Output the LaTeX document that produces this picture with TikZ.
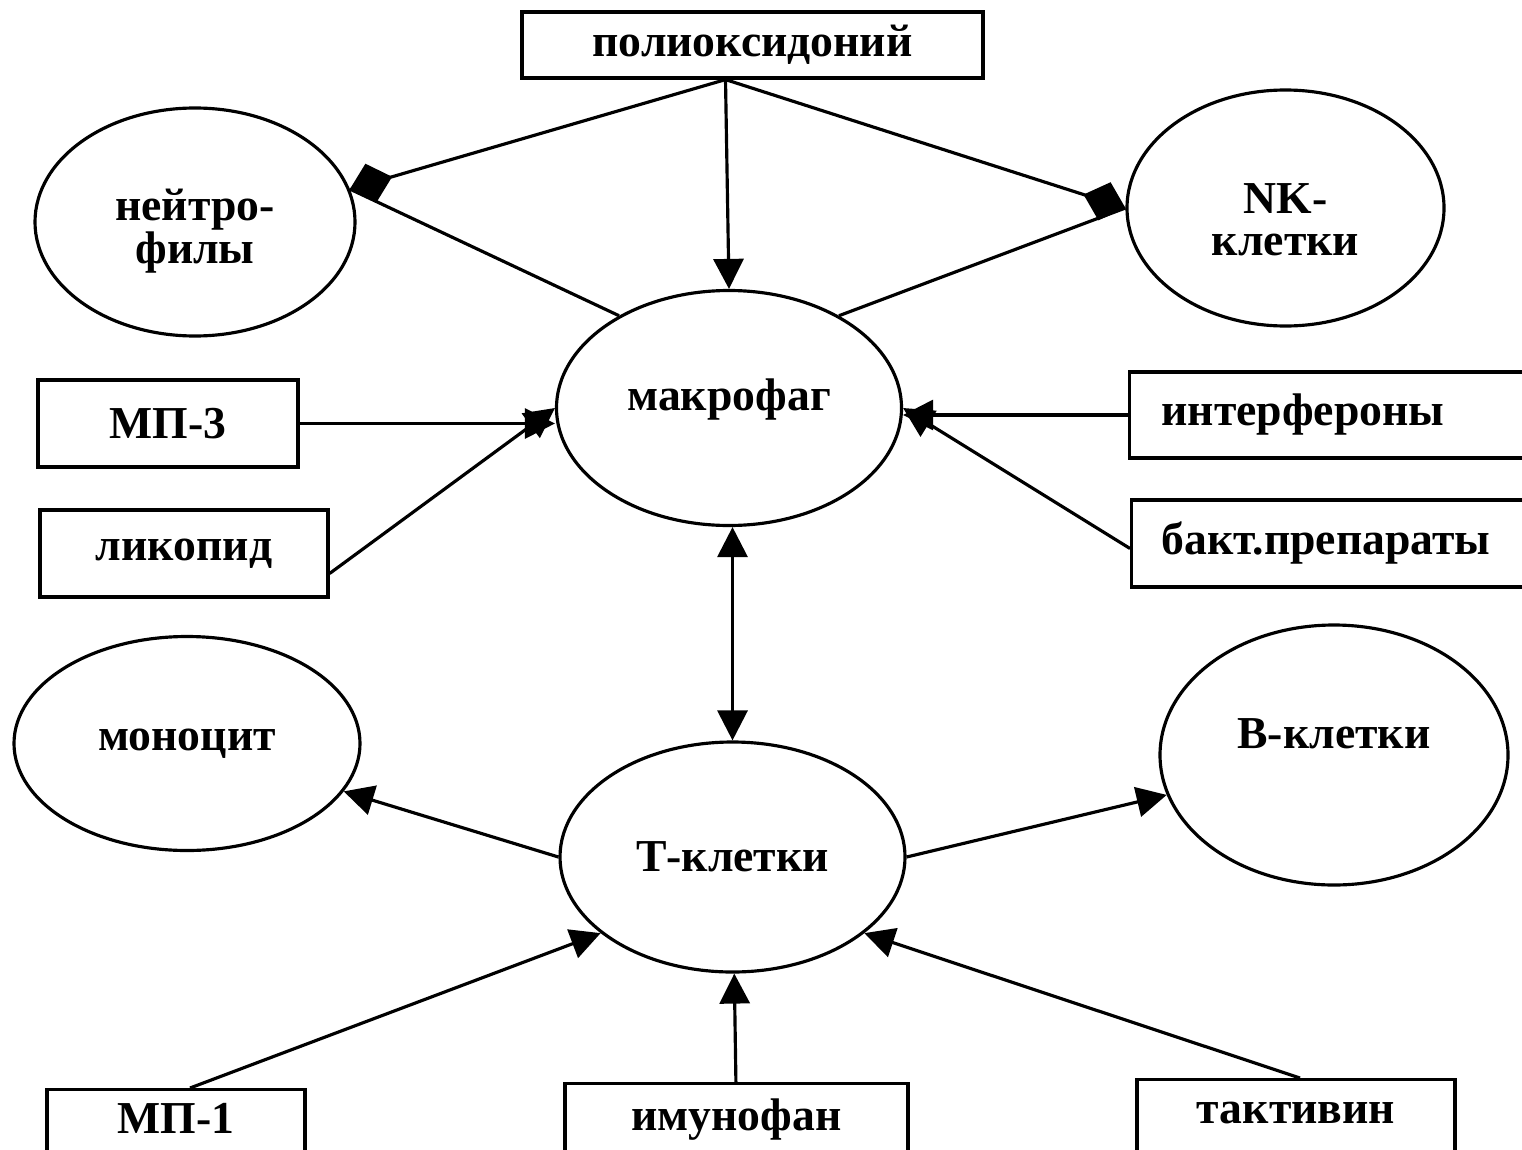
\documentclass[tikz,border=0pt]{standalone}
\usepackage{fontspec}
\setmainfont{Liberation Serif}
\usetikzlibrary{shapes.geometric,arrows.meta}

\begin{document}
\begin{tikzpicture}[line width=0.9pt,
    font=\fontsize{13}{12}\selectfont\bfseries,
    cell/.style={draw, ellipse, inner sep=0pt, align=center},
    drug/.style={draw, rectangle, inner sep=0pt},
    tri/.style={-{Triangle[length=3mm,width=3mm]}},
    dia/.style={-{Diamond[length=4.4mm,width=4mm]}}]
    \useasboundingbox (0,0) rectangle (15.22,-11.49);

    % cells
    \node (neutro) [cell, text height=0.92cm, minimum width=3.20cm, minimum height=2.28cm] at (1.95,-2.22) {нейтро-\\филы};
    \node (nk) [cell, text height=0.96cm, minimum width=3.17cm, minimum height=2.36cm] at (12.855,-2.08) {NK-\\клетки};
    \node (makrofag) [cell, text depth=0.26cm, minimum width=3.45cm, minimum height=2.35cm] at (7.29,-4.08) {макрофаг};
    \node (monocyt) [cell, minimum width=3.46cm, minimum height=2.14cm] at (1.87,-7.435) {моноцит};
    \node (tcell) [cell, minimum width=3.45cm, minimum height=2.30cm] at (7.325,-8.57) {Т-клетки};
    \node (bcell) [cell, text depth=0.42cm, minimum width=3.48cm, minimum height=2.60cm] at (13.34,-7.55) {В-клетки};

    % preparations
    \node (poli) [drug, minimum width=4.61cm, minimum height=0.66cm] at (7.525,-0.45) {полиоксидоний};
    \node (mp3) [drug, minimum width=2.60cm, minimum height=0.87cm] at (1.68,-4.235) {МП-3};
    \node (likopid) [drug, minimum width=2.88cm, minimum height=0.87cm] at (1.84,-5.535) {ликопид};
    \node (interf) [drug, anchor=west, text width=3.8cm, inner xsep=0.32cm, minimum height=0.86cm] at (11.28,-4.15) {интерфероны};
    \node (bakt) [drug, anchor=west, text width=3.8cm, inner xsep=0.30cm, minimum height=0.87cm] at (11.30,-5.435) {бакт.препараты};
    \node (mp1) [drug, anchor=north, minimum width=2.58cm, minimum height=0.70cm, text depth=0.12cm] at (1.76,-10.88) {МП-1};
    \node (imuno) [drug, anchor=north, minimum width=3.43cm, minimum height=0.74cm, text depth=0.12cm] at (7.365,-10.82) {имунофан};
    \node (taktiv) [drug, anchor=north, minimum width=3.18cm, minimum height=0.78cm, text depth=0.12cm] at (12.96,-10.78) {тактивин};

    \coordinate (src) at ([xshift=-2.7mm]poli.south);

    \draw [dia] (src) -- (neutro.12);
    \draw (makrofag.140) -- (neutro.12);
    \draw [tri] (src) -- (makrofag.north);
    \draw [dia] (src) -- (nk.west);
    \draw (makrofag.40) -- (nk.west);

    \draw [tri] (mp3.east) -- (mp3.east -| makrofag.west);
    \draw [tri] ([yshift=-2mm]likopid.east) -- (makrofag.west);
    \draw [tri] (interf.west) -- (interf.west -| makrofag.east);
    \draw [tri] ([yshift=-0.5mm]bakt.west) -- (makrofag.east);

    \draw [{Triangle[length=3mm,width=3mm]}-{Triangle[length=3mm,width=3mm]}] (tcell.north |- makrofag.south) -- (tcell.north);

    \draw [tri] (tcell.west) -- (monocyt);
    \draw [tri] (tcell.east) -- (bcell);
    \draw [tri] ([xshift=1.4mm]mp1.north) -- (tcell.-150);
    \draw [tri] (imuno) -- (tcell);
    \draw [tri] ([xshift=0.4mm]taktiv.north) -- (tcell.-30);
\end{tikzpicture}
\end{document}
